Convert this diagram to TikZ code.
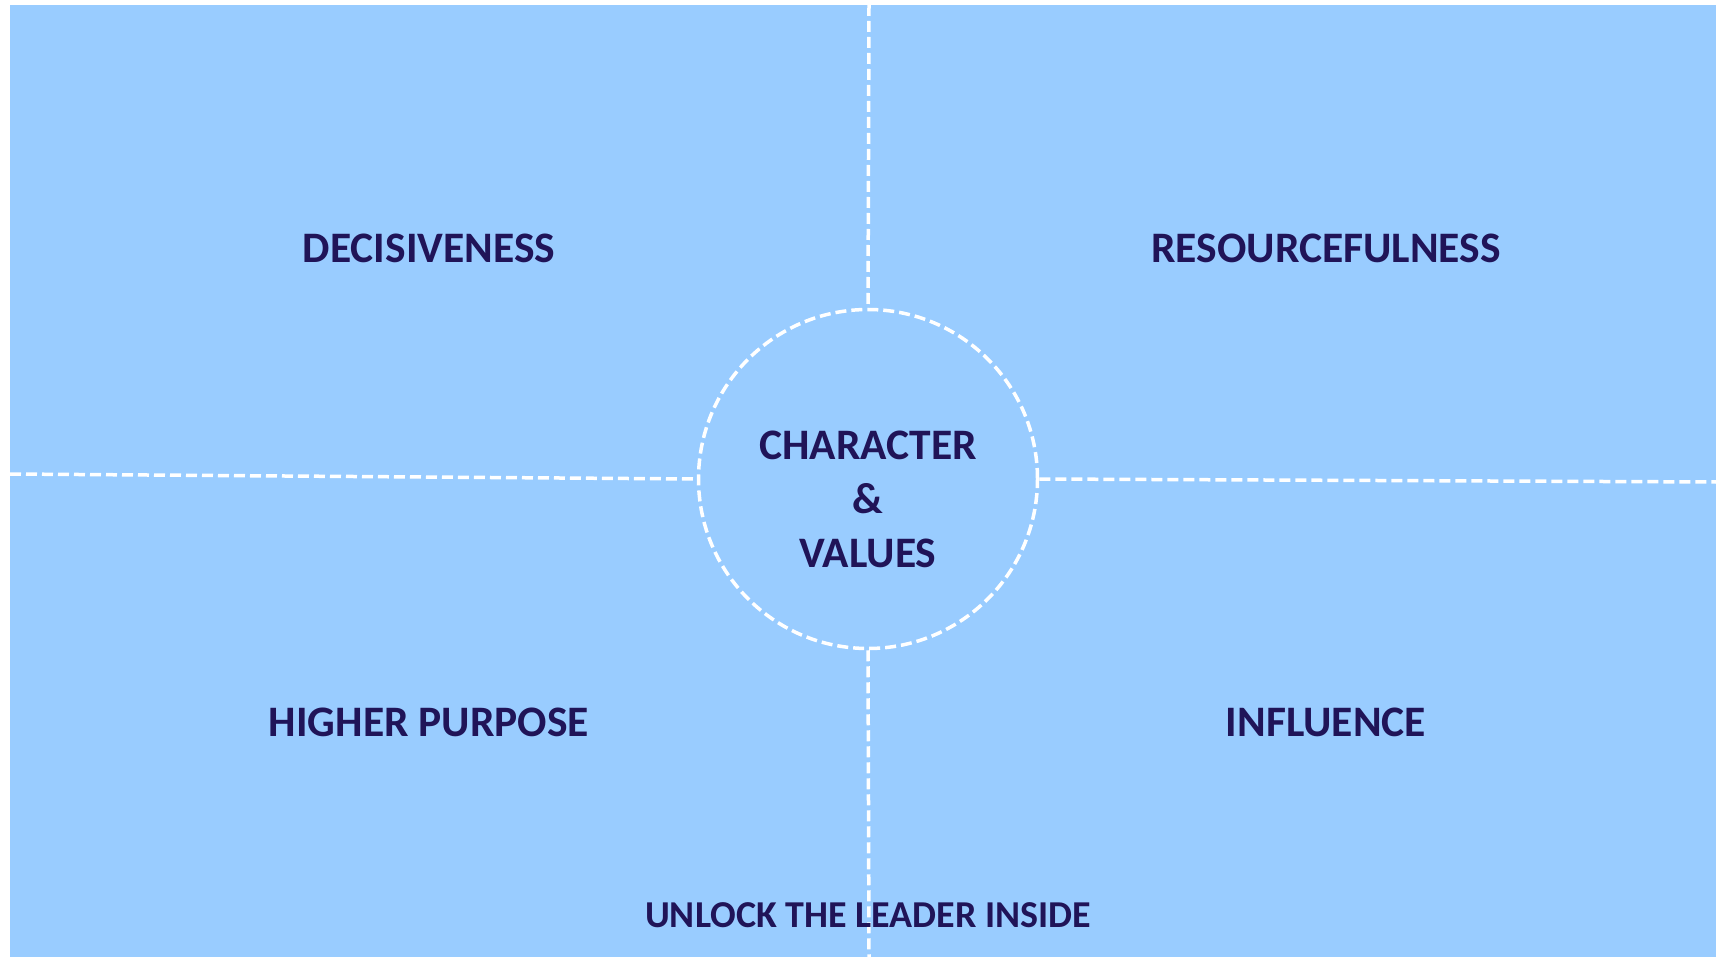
\documentclass[tikz,border=0pt]{standalone}
\usepackage{fontspec}
\setmainfont{Carlito}
\begin{document}
\begin{tikzpicture}[x=1pt,y=-1pt,
  bg/.style={fill=bgblue,draw=none},
  divider/.style={draw=white,line width=3.5pt,dash pattern=on 11pt off 5pt},
  label/.style={text=navy,font=\fontsize{43.5}{55}\selectfont\bfseries,align=center,inner sep=0pt},
  foot/.style={text=navy,font=\fontsize{38}{46}\selectfont\bfseries,inner sep=0pt}]
\definecolor{bgblue}{RGB}{153,204,255}
\definecolor{navy}{RGB}{32,20,88}
\useasboundingbox (0,0) rectangle (1716,957);
\fill[white] (0,0) rectangle (1716,957);
\fill[bg] (10,5) rectangle (1716,957);
\node[circle,minimum size=339pt,inner sep=0pt,divider] (c) at (868,479) {};
\coordinate (top) at (869,5);
\coordinate (bot) at (869,957);
\coordinate (lft) at (10,474);
\coordinate (rgt) at (1716,482);
\draw[divider] (top) -- (c.north);
\draw[divider] (c.south) -- (bot);
\draw[divider] (lft) -- (c.west);
\draw[divider] (c.east) -- (rgt);
\node[label] (cv) at (868,499) {CHARACTER\\[-1pt]\&\\[-1pt]VALUES};
\node[label] (d) at (429,248) {DECISIVENESS};
\node[label] (r) at (1326,248) {RESOURCEFULNESS};
\node[label] (h) at (429,722) {HIGHER PURPOSE};
\node[label] (i) at (1326,722) {INFLUENCE};
\node[foot] (u) at (868,915) {UNLOCK THE LEADER INSIDE};
\end{tikzpicture}
\end{document}
